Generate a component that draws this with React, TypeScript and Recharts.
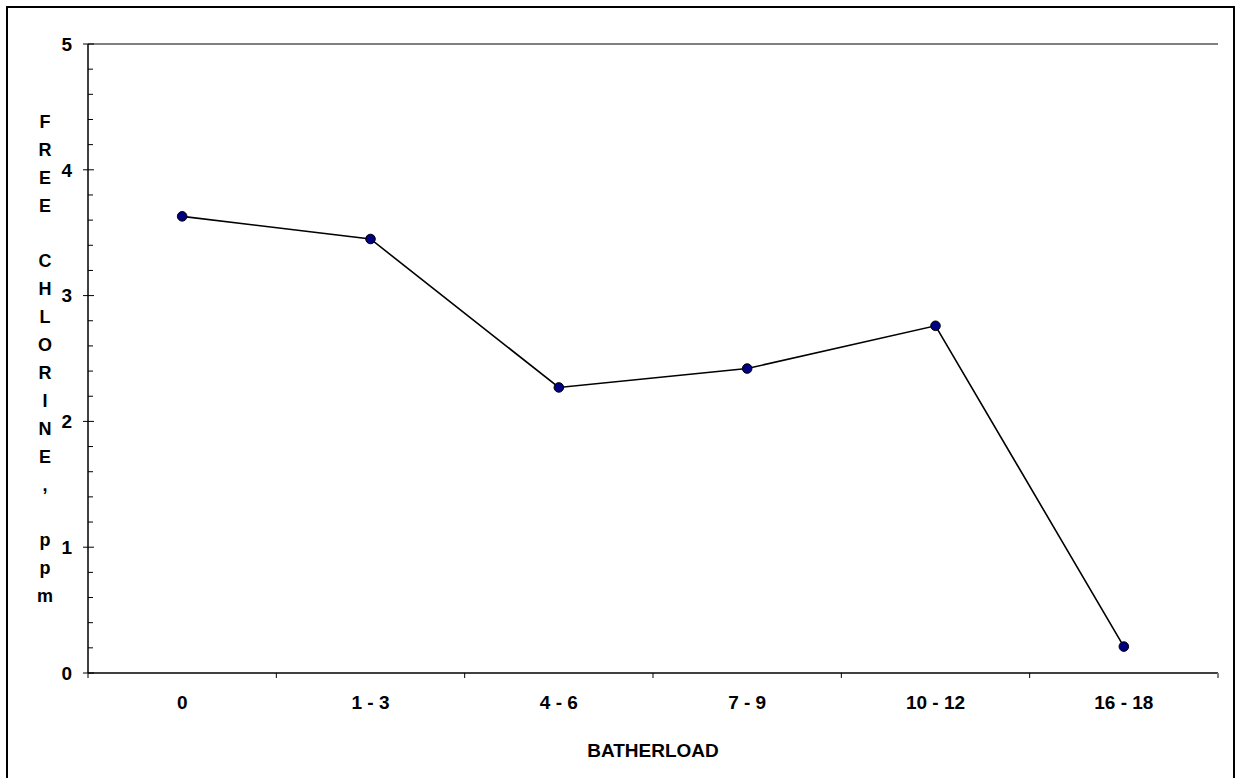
import React from 'react';
import { LineChart, Line, XAxis, YAxis, ReferenceLine } from 'recharts';

const categories = ['0', '1 - 3', '4 - 6', '7 - 9', '10 - 12', '16 - 18'];
const freeChlorine = [3.63, 3.45, 2.27, 2.42, 2.76, 0.21];
const yTicks = [0, 0.2, 0.4, 0.6, 0.8, 1, 1.2, 1.4, 1.6, 1.8, 2, 2.2, 2.4, 2.6, 2.8, 3, 3.2, 3.4, 3.6, 3.8, 4, 4.2, 4.4, 4.6, 4.8, 5];
const yTitleLines = ['F', 'R', 'E', 'E', '', 'C', 'H', 'L', 'O', 'R', 'I', 'N', 'E', ',', '', 'p', 'p', 'm'];
const xTitle = 'BATHERLOAD';

const data = categories.map((c, i) => ({ batherload: c, chlorine: freeChlorine[i] }));

const FONT = '"Liberation Sans", Arial, Helvetica, sans-serif';
const W = 1235;
const H = 778;
const PLOT_W = 1130;

const YTick = (props: any) => {
  const { x, y, payload } = props;
  const v = payload.value;
  const major = Math.abs(v - Math.round(v)) < 1e-6;
  if (!major) {
    return <line x1={x} x2={x + 5} y1={y} y2={y} stroke="#000" strokeWidth={1} />;
  }
  return (
    <g>
      <line x1={x - 5} x2={x + 6} y1={y} y2={y} stroke="#000" strokeWidth={1} />
      <text x={x - 16} y={y} dy="0.36em" textAnchor="end" fontFamily={FONT} fontWeight="bold" fontSize={19} fill="#000">
        {String(Math.round(v))}
      </text>
    </g>
  );
};

const XTick = (props: any) => {
  const { x, y, payload, index } = props;
  const off = payload && payload.offset ? payload.offset : PLOT_W / categories.length / 2;
  const last = index === categories.length - 1;
  return (
    <g>
      <line x1={x - off} x2={x - off} y1={y} y2={y + 5} stroke="#000" strokeWidth={1} />
      {last && <line x1={x + off} x2={x + off} y1={y} y2={y + 5} stroke="#808080" strokeWidth={2} />}
      <text x={x} y={y + 29} dy="0.36em" textAnchor="middle" fontFamily={FONT} fontWeight="bold" fontSize={19} fill="#000">
        {payload.value}
      </text>
    </g>
  );
};

const YTitle = (props: any) => {
  const vb = props.viewBox || { x: 0, y: 44, width: 88, height: 629 };
  const cx = vb.x + 45;
  const cy = vb.y + vb.height / 2;
  const step = 27.9;
  const n = yTitleLines.length;
  return (
    <text textAnchor="middle" fontFamily={FONT} fontWeight="bold" fontSize={18} fill="#000">
      {yTitleLines.map((l, i) => (
        <tspan key={i} x={cx} y={cy + (i - (n - 1) / 2) * step + 6.5}>
          {l || ' '}
        </tspan>
      ))}
    </text>
  );
};

const XTitle = (props: any) => {
  const vb = props.viewBox || { x: 88, y: 673, width: 1130, height: 105 };
  return (
    <text x={vb.x + vb.width / 2} y={vb.y + 77} dy="0.36em" textAnchor="middle" fontFamily={FONT} fontWeight="bold" fontSize={19} fill="#000">
      {xTitle}
    </text>
  );
};

export default function App() {
  return (
    <div style={{ position: 'absolute', left: 0, top: 0, width: W, height: H, overflow: 'hidden', background: '#fff' }}>
      <div
        style={{
          position: 'absolute',
          left: 6,
          top: 6,
          width: 1225,
          height: 800,
          borderLeft: '2px solid #000',
          borderTop: '2px solid #000',
          borderRight: '2px solid #000',
        }}
      />
      <div style={{ position: 'absolute', left: 0, top: 0 }}>
        <LineChart width={W} height={H} data={data} margin={{ top: 44, right: 17, bottom: 0, left: 0 }}>
          <YAxis
            yAxisId="right"
            orientation="right"
            type="number"
            domain={[0, 5]}
            width={0}
            tick={false}
            tickLine={false}
            axisLine={{ stroke: '#808080', strokeWidth: 2 }}
          />
          <ReferenceLine y={5} stroke="#808080" strokeWidth={2} ifOverflow="visible" />
          <XAxis
            dataKey="batherload"
            scale="band"
            height={105}
            tickSize={0}
            tickMargin={0}
            interval={0}
            tickLine={false}
            tick={<XTick />}
            axisLine={{ stroke: '#000', strokeWidth: 1.5 }}
            label={(p: any) => <XTitle {...p} />}
          />
          <YAxis
            type="number"
            domain={[0, 5]}
            ticks={yTicks}
            interval={0}
            width={88}
            tickSize={0}
            tickMargin={0}
            tickLine={false}
            tick={<YTick />}
            axisLine={{ stroke: '#000', strokeWidth: 1.5 }}
            label={(p: any) => <YTitle {...p} />}
          />
          <Line
            type="linear"
            dataKey="chlorine"
            stroke="#000"
            strokeWidth={1.6}
            dot={{ r: 4.8, fill: '#000080', stroke: '#000', strokeWidth: 1 }}
            activeDot={false}
            isAnimationActive={false}
          />
        </LineChart>
      </div>
    </div>
  );
}
